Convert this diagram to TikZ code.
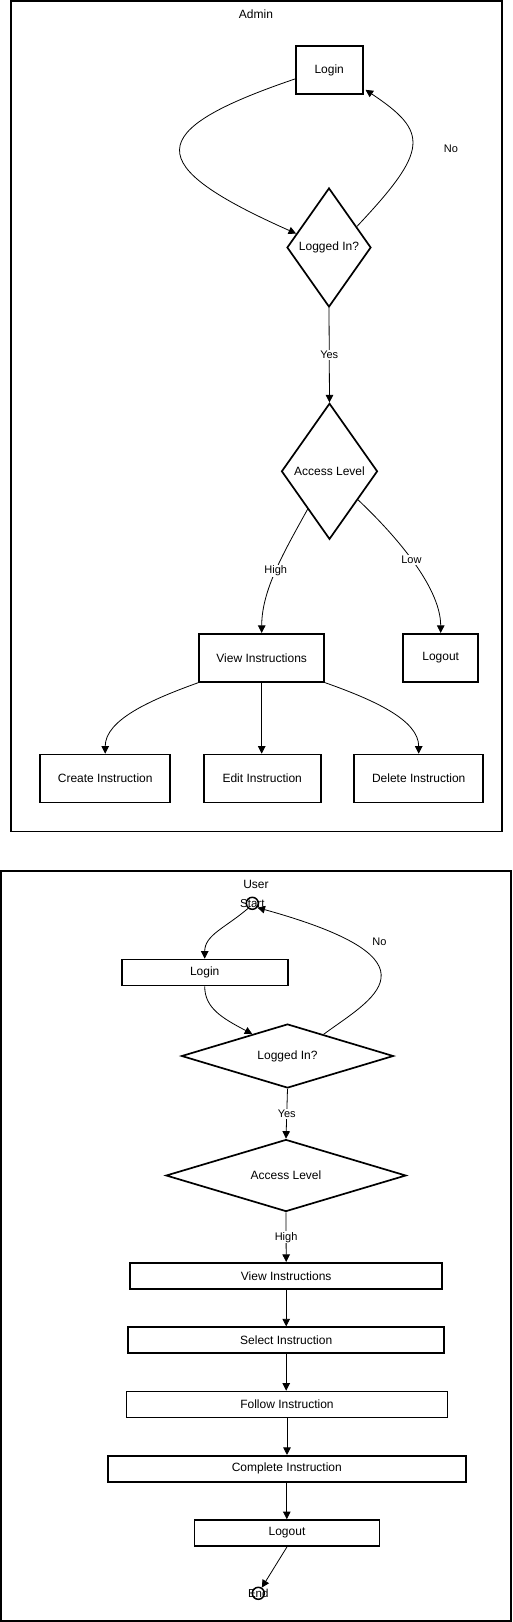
\documentclass[tikz,border=0pt]{standalone}
\usepackage{fontspec}
\setmainfont{Liberation Sans}
\usetikzlibrary{arrows.meta,shapes.geometric}
\begin{document}
\begin{tikzpicture}[x=1pt,y=-1pt,
  stepbox/.style={draw,line width=1.7pt,rectangle,inner sep=0pt,font=\fontsize{12}{14}\selectfont},
  dia/.style={draw,line width=1.7pt,diamond,inner sep=0pt,font=\fontsize{12}{14}\selectfont},
  framebox/.style={draw,line width=1.7pt},
  conn/.style={draw,line width=0.8pt,-{Triangle[length=7.5pt,width=7.5pt]}},
  lbl/.style={fill=white,inner sep=1pt,font=\fontsize{11}{13}\selectfont},
  term/.style={draw,circle,line width=1.5pt,minimum size=12pt,inner sep=0pt},
  ttl/.style={font=\fontsize{12}{14}\selectfont},
  smalltxt/.style={font=\fontsize{11.5}{13}\selectfont}]
\useasboundingbox (0,0) rectangle (512,1622);
% ---------------- Admin ----------------
\draw[framebox] (11.3,1.2) rectangle (502.3,831.5);
\node[ttl] (atitle) at (256,14.7) {Admin};
\node[stepbox,minimum width=67pt,minimum height=48pt] (alogin) at (329.2,70) {Login};
\node[dia,minimum width=84pt,minimum height=119pt] (alog) at (329,247.5) {Logged In?};
\node[dia,minimum width=96pt,minimum height=136pt] (aacc) at (329.5,471.3) {Access Level};
\node[stepbox,minimum width=125pt,minimum height=48pt] (aview) at (261.7,657.8) {View Instructions};
\node[stepbox,minimum width=75pt,minimum height=48pt] (alogout) at (440.7,657.8) {Logout};
\node[stepbox,minimum width=130pt,minimum height=48pt] (acreate) at (105.2,778.5) {Create Instruction};
\node[stepbox,minimum width=117pt,minimum height=48pt] (aedit) at (262.2,778.5) {Edit Instruction};
\node[stepbox,minimum width=129pt,minimum height=48pt] (adelete) at (418.7,778.5) {Delete Instruction};

\draw[conn] ([yshift=-9pt]alogin.west) .. controls (142,131) and (142,165) .. (alog.157);
\draw[conn] (alog.37) .. controls (429,150) and (429,132) .. ([shift={(2,-5)}]alogin.south east);
\node[lbl,fill=none] (ano) at (451,149) {No};
\draw[conn] (alog.south) -- node[lbl]{Yes} (aacc.north);
\draw[conn] (aacc.240) .. controls (284,552) and (261.7,590) .. node[lbl,pos=0.5]{High} (aview.north);
\draw[conn] (aacc.-45) .. controls (390,530) and (440.7,585) .. node[lbl,pos=0.5]{Low} (alogout.north);
\draw[conn] (aview.south west) .. controls (150,700) and (105.2,720) .. (acreate.north);
\draw[conn] (aview.south) -- (aview.south |- aedit.north);
\draw[conn] (aview.south east) .. controls (374,700) and (418.7,720) .. (adelete.north);

% ---------------- User ----------------
\draw[framebox] (1.2,871) rectangle (510.8,1620.8);
\node[ttl] (utitle) at (256,884.3) {User};
\node[term,label={[smalltxt]center:Start}] (ustart) at (252.3,903.3) {};
\node[stepbox,minimum width=166pt,minimum height=26pt] (ulogin) at (204.7,972.5) {Login};
\node[dia,aspect=3,minimum width=212pt,minimum height=64pt] (ulog) at (287.5,1056) {Logged In?};
\node[dia,aspect=3,minimum width=240pt,minimum height=72pt] (uacc) at (286,1175.5) {Access Level};
\node[stepbox,minimum width=312pt,minimum height=26pt] (uview) at (286.2,1275.8) {View Instructions};
\node[stepbox,minimum width=316pt,minimum height=26pt] (usel) at (286.2,1340.2) {Select Instruction};
\node[stepbox,minimum width=321pt,minimum height=26pt] (ufollow) at (287,1404.5) {Follow Instruction};
\node[stepbox,minimum width=358pt,minimum height=26pt] (ucomplete) at (286.8,1468.8) {Complete Instruction};
\node[stepbox,minimum width=185pt,minimum height=26pt] (ulogout) at (287,1533) {Logout};
\node[term,label={[smalltxt]center:End}] (uend) at (258.3,1593.3) {};

\draw[conn] (ustart.230) .. controls (225,928) and (204.7,935) .. (ulogin.north);
\draw[conn] (ulogin.south) .. controls (204.7,1008) and (222,1018) .. (ulog.148);
\draw[conn] (ulog.31) .. controls (370,1000) and (450,961) .. (ustart.-40);
\node[lbl,fill=none] (uno) at (379.5,942) {No};
\draw[conn] (ulog.south) -- node[lbl]{Yes} (uacc.north);
\draw[conn] (uacc.south) -- node[lbl]{High} (uview.north);
\draw[conn] (uview.south) -- (uview.south |- usel.north);
\draw[conn] (usel.south) -- (usel.south |- ufollow.north);
\draw[conn] (ufollow.south) -- (ufollow.south |- ucomplete.north);
\draw[conn] (ucomplete.south) -- (ucomplete.south |- ulogout.north);
\draw[conn] (ulogout.south) -- (uend);
\end{tikzpicture}
\end{document}
